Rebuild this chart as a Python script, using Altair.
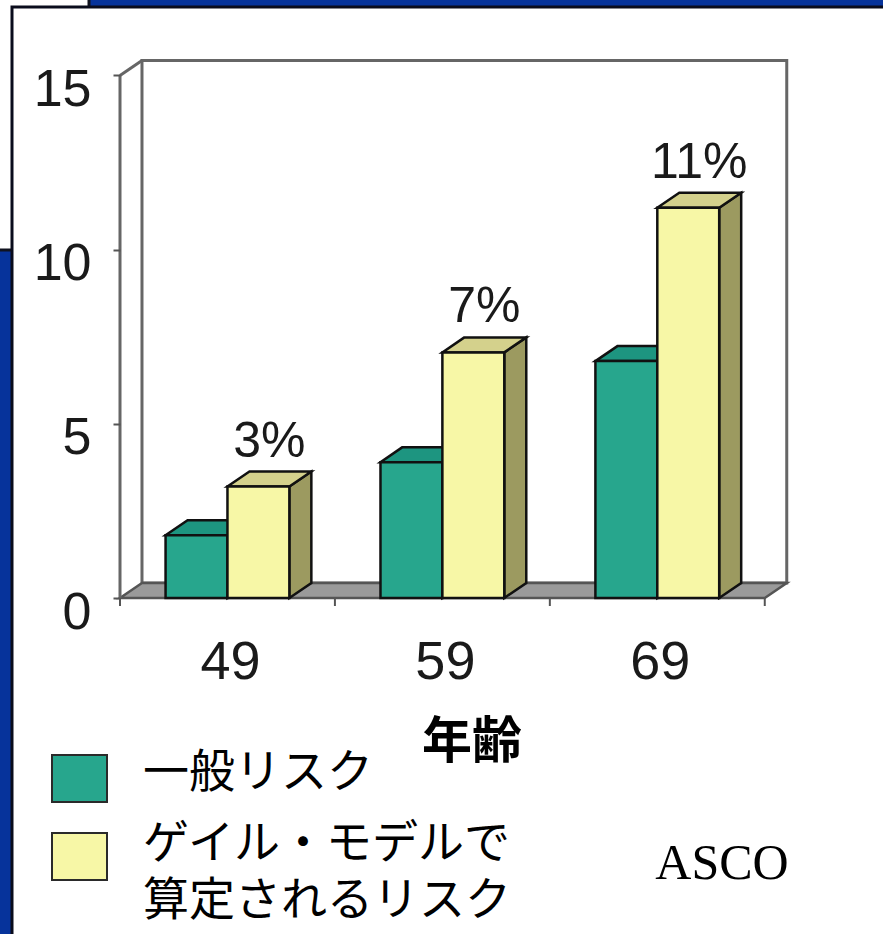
import altair as alt
import pandas as pd

# ---------------- data ----------------
ages = ["49", "59", "69"]
general_risk = [1.8, 3.9, 6.8]
gail_risk = [3.2, 7.05, 11.2]
gail_labels = ["3%", "7%", "11%"]
series_names = ["一般リスク", "ゲイル・モデルで\n算定されるリスク"]
y_ticks = [0, 5, 10, 15]
x_title = "年齢"
source_note = "ASCO"

# ---------------- style ----------------
front_colors = ["#27a68d", "#f7f7a6"]
top_colors = ["#1d9580", "#d4d18c"]
side_colors = ["#16705f", "#9c9a60"]
BLUE = "#06339b"
EDGE = "#111111"

W, H = 677, 540
PL, PT = 120, 58
N = len(ages)
Y_TOP = y_ticks[-1]
X_MAX = N + 0.15
Y_MAX = 15.5
DX = 22 / 215            # depth offset in category units
DY = 15 / (H / Y_MAX)    # depth offset in value units
BW = 0.288               # bar width in category units
K = H / Y_MAX            # px per value unit

xs = alt.Scale(domain=[0, X_MAX], nice=False, zero=False)
ys = alt.Scale(domain=[0, Y_MAX], nice=False, zero=False)
y_axis = alt.Axis(values=y_ticks, title=None, grid=False, domain=False,
                  tickSize=7, tickWidth=2, tickColor="#555555",
                  labelFontSize=52, labelFont="Liberation Sans",
                  labelColor="#1a1a1a", labelPadding=22, labelOffset=14,
                  zindex=5)

def X(f):
    return alt.X(f, type="quantitative", scale=xs, axis=None, stack=False)

def Y(f):
    return alt.Y(f, type="quantitative", scale=ys, axis=y_axis, stack=False)

# ---------------- build tables ----------------
fronts, sides, tops = [], [], []
for i, age in enumerate(ages):
    for s, vals in enumerate([general_risk, gail_risk]):
        v = vals[i]
        x0 = i + 0.5 - BW if s == 0 else i + 0.5
        x1 = x0 + BW
        bid = f"{age}-{s}"
        name = series_names[s]
        fronts.append(dict(id=bid, s=name, x0=x0, x1=x1, y0=0.0, v=v))
        sides.append(dict(id=bid, s=name, px=x1, lo=0.0, hi=v))
        sides.append(dict(id=bid, s=name, px=x1 + DX, lo=DY, hi=v + DY))
        tops.append(dict(id=bid, s=name, py=v, xl=x0, xr=x1))
        tops.append(dict(id=bid, s=name, py=v + DY, xl=x0 + DX, xr=x1 + DX))
fronts = pd.DataFrame(fronts)
sides = pd.DataFrame(sides)
tops = pd.DataFrame(tops)

floor = pd.DataFrame([dict(py=0.0, xl=0.0, xr=float(N)),
                      dict(py=DY, xl=DX, xr=N + DX)])
wall = pd.DataFrame([dict(x0=DX, x1=N + DX, y0=DY, y1=Y_TOP + DY)])
edges = pd.DataFrame([dict(x0=0.0, x1=0.0, y0=0.0, y1=float(Y_TOP)),
                      dict(x0=0.0, x1=DX, y0=float(Y_TOP), y1=Y_TOP + DY)])
xticks = pd.DataFrame(dict(x=[float(j) for j in range(N + 1)], y0=0.0, y1=-8 / K))
xlab = pd.DataFrame(dict(age=ages, x=[i + 0.5 for i in range(N)], y=0.0))
plab = pd.DataFrame(dict(lab=gail_labels,
                         x=[i + 0.5 + BW / 2 + DX / 2 for i in range(N)],
                         y=[g + DY for g in gail_risk]))
one = pd.DataFrame({"k": [0]})

def px(a):
    return a - PL

def py(a):
    return a - PT

# ---------------- decoration (slide frame) ----------------
decor_a = alt.Chart(one).mark_rect(fill="white", stroke="#10131f", strokeWidth=3).encode(
    x=alt.value(px(-5)), x2=alt.value(px(89)), y=alt.value(py(-5)), y2=alt.value(py(250)))
decor_b = alt.Chart(one).mark_rect(fill="white", stroke="#0a0c1c", strokeWidth=3).encode(
    x=alt.value(px(12)), x2=alt.value(px(900)), y=alt.value(py(7)), y2=alt.value(py(960)))

# ---------------- chart frame ----------------
wall_l = alt.Chart(wall).mark_rect(fill="white", stroke="#666666", strokeWidth=3).encode(
    x=X("x0"), x2="x1", y=Y("y0"), y2="y1")
edge_l = alt.Chart(edges).mark_rule(color="#666666", strokeWidth=3).encode(
    x=X("x0"), x2="x1", y=Y("y0"), y2="y1")
floor_l = alt.Chart(floor).mark_area(orient="horizontal", fill="#9a9a9a",
                                     stroke="#555555", strokeWidth=2.5).encode(
    y=Y("py"), x=X("xl"), x2="xr")
tick_l = alt.Chart(xticks).mark_rule(color="#555555", strokeWidth=2).encode(
    x=X("x"), y=Y("y0"), y2="y1")

# ---------------- bars ----------------
side_l = alt.Chart(sides).mark_area(orient="vertical", stroke=EDGE, strokeWidth=2.5).encode(
    x=X("px"), y=Y("lo"), y2="hi", detail="id:N",
    color=alt.Color("s:N", scale=alt.Scale(domain=series_names, range=side_colors), legend=None))
top_l = alt.Chart(tops).mark_area(orient="horizontal", stroke=EDGE, strokeWidth=2.5).encode(
    y=Y("py"), x=X("xl"), x2="xr", detail="id:N",
    color=alt.Color("s:N", scale=alt.Scale(domain=series_names, range=top_colors), legend=None))
front_l = alt.Chart(fronts).mark_rect(stroke=EDGE, strokeWidth=2.5).encode(
    x=X("x0"), x2="x1", y=Y("y0"), y2="v",
    color=alt.Color("s:N", scale=alt.Scale(domain=series_names, range=front_colors), legend=None))

# ---------------- texts ----------------
xlab_l = alt.Chart(xlab).mark_text(font="Liberation Sans", fontSize=54, color="#1a1a1a",
                                   baseline="middle", align="center", dy=65, dx=3).encode(
    x=X("x"), y=Y("y"), text="age:N")
plab_l = alt.Chart(plab).mark_text(font="Liberation Sans", fontSize=50, color="#1a1a1a",
                                   baseline="alphabetic", align="center", dy=-15).encode(
    x=X("x"), y=Y("y"), text="lab:N")
title_l = alt.Chart(one).mark_text(text=x_title, font="Noto Sans CJK JP", fontSize=50,
                                   fontWeight="bold", color="#000000",
                                   baseline="middle", align="center").encode(
    x=alt.value(px(472)), y=alt.value(py(743)))
asco_l = alt.Chart(one).mark_text(text=source_note, font="Liberation Serif", fontSize=50,
                                  color="#000000", baseline="middle", align="center").encode(
    x=alt.value(px(722)), y=alt.value(py(864)))

legend_layers = []
sq_tops = [755, 833]
text_tops = [751, 822]
for s, name in enumerate(series_names):
    legend_layers.append(
        alt.Chart(one).mark_rect(fill=front_colors[s], stroke="#2a2a2a", strokeWidth=2).encode(
            x=alt.value(px(52)), x2=alt.value(px(107)),
            y=alt.value(py(sq_tops[s])), y2=alt.value(py(sq_tops[s] + 47))))
    legend_layers.append(
        alt.Chart(one).mark_text(text=name, lineBreak="\n", lineHeight=57,
                                 font="Noto Sans CJK JP", fontSize=46,
                                 color="#000000", baseline="top", align="left").encode(
            x=alt.value(px(143)), y=alt.value(py(text_tops[s]))))

chart = alt.layer(
    decor_a, decor_b, wall_l, floor_l, edge_l, tick_l,
    side_l, top_l, front_l, xlab_l, plab_l, title_l, asco_l, *legend_layers
).resolve_scale(color="independent").properties(
    width=W, height=H,
    padding={"left": PL, "top": PT, "right": 883 - PL - W, "bottom": 934 - PT - H},
    autosize=alt.AutoSizeParams(type="none"),
    background=BLUE,
).configure_view(stroke=None)

chart.save("out.html", embed_options={"renderer": "svg", "actions": False})
